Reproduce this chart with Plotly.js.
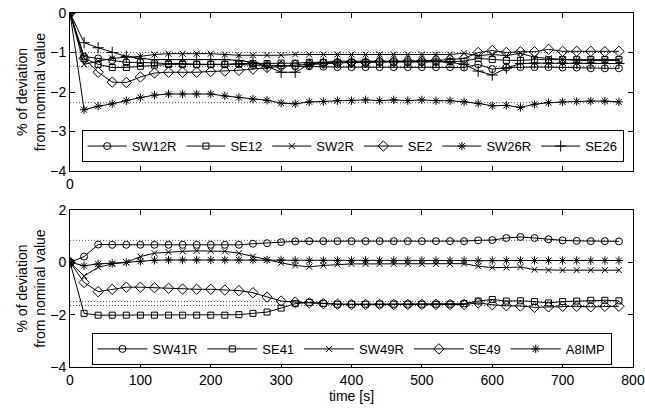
<!DOCTYPE html>
<html><head><meta charset="utf-8">
<script src="https://cdn.plot.ly/plotly-3.0.1.min.js"></script>
<style>html,body{margin:0;padding:0;background:#fff}#chart{width:645px;height:412px}</style>
</head><body><div id="chart"></div>
<script>
// time axis (s)
const time = [0,20,40,60,80,100,120,140,160,180,200,220,240,260,280,300,320,340,360,380,
              400,420,440,460,480,500,520,540,560,580,600,620,640,660,680,700,720,740,760,780];

// ---- top panel series (% deviation) ----
const SW12R = [0,-1.10,-1.15,-1.20,-1.25,-1.25,-1.27,-1.28,-1.28,-1.30,-1.30,-1.30,-1.30,-1.32,-1.32,-1.33,-1.35,-1.35,-1.36,-1.37,
               -1.37,-1.37,-1.37,-1.37,-1.37,-1.37,-1.37,-1.37,-1.38,-1.30,-1.42,-1.38,-1.37,-1.37,-1.37,-1.38,-1.38,-1.40,-1.40,-1.40];
const SE12  = [0,-1.15,-1.30,-1.38,-1.38,-1.35,-1.32,-1.30,-1.30,-1.30,-1.30,-1.30,-1.28,-1.28,-1.28,-1.27,-1.27,-1.25,-1.25,-1.25,
               -1.25,-1.25,-1.24,-1.24,-1.24,-1.24,-1.24,-1.23,-1.22,-1.15,-1.18,-1.20,-1.20,-1.18,-1.18,-1.18,-1.18,-1.18,-1.18,-1.18];
const SW2R  = [0,-1.30,-1.22,-1.15,-1.12,-1.10,-1.05,-1.03,-1.03,-1.03,-1.03,-1.05,-1.07,-1.07,-1.07,-1.07,-1.05,-1.05,-1.05,-1.05,
               -1.05,-1.05,-1.05,-1.05,-1.05,-1.05,-1.05,-1.05,-1.02,-1.08,-1.05,-1.08,-1.02,-1.12,-1.15,-1.18,-1.20,-1.20,-1.20,-1.20];
const SE2   = [0,-1.15,-1.50,-1.75,-1.76,-1.62,-1.52,-1.50,-1.50,-1.50,-1.48,-1.47,-1.45,-1.42,-1.38,-1.35,-1.32,-1.30,-1.28,-1.27,
               -1.25,-1.25,-1.23,-1.23,-1.22,-1.22,-1.20,-1.18,-1.15,-1.00,-0.95,-1.00,-0.98,-0.98,-0.92,-0.97,-0.97,-0.97,-0.98,-0.97];
const SW26R = [0,-2.45,-2.36,-2.30,-2.22,-2.14,-2.08,-2.05,-2.05,-2.05,-2.05,-2.10,-2.14,-2.18,-2.21,-2.28,-2.30,-2.25,-2.24,-2.22,
               -2.22,-2.20,-2.22,-2.20,-2.22,-2.20,-2.22,-2.22,-2.25,-2.29,-2.35,-2.34,-2.39,-2.31,-2.27,-2.25,-2.24,-2.23,-2.23,-2.25];
const SE26  = [0,-0.75,-0.88,-1.00,-1.10,-1.15,-1.18,-1.18,-1.18,-1.18,-1.18,-1.18,-1.20,-1.25,-1.35,-1.50,-1.50,-1.30,-1.25,-1.22,
               -1.22,-1.22,-1.22,-1.22,-1.22,-1.22,-1.22,-1.25,-1.30,-1.47,-1.57,-1.40,-1.28,-1.27,-1.27,-1.27,-1.27,-1.27,-1.28,-1.28];

// ---- bottom panel series ----
const SW41R = [0,0.22,0.68,0.67,0.67,0.67,0.67,0.67,0.67,0.67,0.67,0.67,0.67,0.71,0.73,0.77,0.80,0.81,0.81,0.81,
               0.81,0.81,0.81,0.81,0.81,0.81,0.81,0.81,0.81,0.84,0.85,0.93,0.97,0.93,0.88,0.84,0.82,0.81,0.81,0.80];
const SE41  = [0,-1.95,-2.02,-2.02,-2.02,-2.02,-2.02,-2.02,-2.02,-2.02,-2.02,-2.02,-2.00,-1.95,-1.90,-1.75,-1.58,-1.53,-1.57,-1.60,
               -1.60,-1.60,-1.60,-1.60,-1.60,-1.60,-1.60,-1.60,-1.58,-1.48,-1.42,-1.48,-1.47,-1.50,-1.55,-1.50,-1.48,-1.45,-1.45,-1.47];
const SW49R = [0,-0.52,-0.19,-0.06,0.00,0.22,0.35,0.39,0.42,0.44,0.44,0.42,0.35,0.22,0.10,-0.02,-0.12,-0.17,-0.12,-0.08,
               -0.06,-0.06,-0.06,-0.06,-0.06,-0.06,-0.06,-0.06,-0.05,-0.15,-0.20,-0.20,-0.18,-0.28,-0.30,-0.30,-0.30,-0.30,-0.30,-0.30];
const SE49  = [0,-0.77,-1.12,-1.03,-0.95,-0.95,-0.97,-0.99,-1.02,-1.03,-1.03,-1.06,-1.08,-1.16,-1.33,-1.48,-1.52,-1.55,-1.58,-1.60,
               -1.61,-1.61,-1.61,-1.61,-1.61,-1.61,-1.61,-1.61,-1.61,-1.55,-1.62,-1.66,-1.67,-1.72,-1.70,-1.68,-1.68,-1.70,-1.68,-1.68];
const A8IMP = [0,-0.13,-0.06,-0.04,0.00,0.04,0.08,0.09,0.09,0.09,0.09,0.09,0.09,0.09,0.09,0.09,0.07,0.07,0.07,0.07,
               0.07,0.07,0.07,0.07,0.07,0.07,0.07,0.07,0.07,0.06,0.07,0.07,0.07,0.07,0.07,0.07,0.07,0.07,0.07,0.07];

// dotted reference levels
const topRefLevels = [-1.0, -1.35, -2.27];
const bottomRefLevels = [0.84, -1.5, -1.65];
const refSpan = [0, 780];

// tick labels
const xTicks = [0,100,200,300,400,500,600,700,800];
const xTickTextTop = ['0','','','','','','','',''];
const xTickTextBottom = ['0','100','200','300','400','500','600','700','800'];
const yTicksTop = [-4,-3,-2,-1,0];
const yTicksBottom = [-4,-2,0,2];

const topNames = ['SW12R','SE12','SW2R','SE2','SW26R','SE26'];
const topData = [SW12R, SE12, SW2R, SE2, SW26R, SE26];
const botNames = ['SW41R','SE41','SW49R','SE49','A8IMP'];
const botData = [SW41R, SE41, SW49R, SE49, A8IMP];

const symTop = ['circle-open','square-open','x-thin-open','diamond-open','asterisk-open','cross-thin-open'];
const symBot = ['circle-open','square-open','x-thin-open','diamond-open','asterisk-open'];
const symSize = {'circle-open':7,'square-open':6,'x-thin-open':6,'diamond-open':8,'asterisk-open':7,'cross-thin-open':8};

const traces = [];
topRefLevels.forEach(v => traces.push({x: refSpan, y: [v, v], xaxis:'x', yaxis:'y', mode:'lines',
  line:{color:'#555', width:1, dash:'1px,2px'}, showlegend:false, hoverinfo:'skip'}));
bottomRefLevels.forEach(v => traces.push({x: refSpan, y: [v, v], xaxis:'x2', yaxis:'y2', mode:'lines',
  line:{color:'#555', width:1, dash:'1px,2px'}, showlegend:false, hoverinfo:'skip'}));

topNames.forEach((n, i) => traces.push({x: time, y: topData[i], name: n, xaxis:'x', yaxis:'y',
  mode:'lines+markers', legend:'legend',
  line:{color:'#000', width:1},
  marker:{symbol:symTop[i], size:symSize[symTop[i]], color:'#000', line:{color:'#000', width:1}}}));
botNames.forEach((n, i) => traces.push({x: time, y: botData[i], name: n, xaxis:'x2', yaxis:'y2',
  mode:'lines+markers', legend:'legend2',
  line:{color:'#000', width:1},
  marker:{symbol:symBot[i], size:symSize[symBot[i]], color:'#000', line:{color:'#000', width:1}}}));

const axisCommon = {ticks:'inside', ticklen:5, tickcolor:'#000', mirror:'ticks', showline:true,
  linecolor:'#000', linewidth:1, showgrid:false, zeroline:false, tickfont:{size:14, color:'#000'}};

const yTitle = {text:'% of deviation<br>from nominal value', font:{size:14, color:'#000'}, standoff:1};

const layout = {
  width:645, height:412,
  margin:{l:70, r:12, t:13, b:45},
  paper_bgcolor:'#fff', plot_bgcolor:'#fff',
  font:{family:'Liberation Sans, Arial, Helvetica, sans-serif', size:14, color:'#000'},
  xaxis: Object.assign({}, axisCommon, {domain:[0,1], anchor:'y', range:[0,800], tickvals:xTicks, ticktext:xTickTextTop}),
  yaxis: Object.assign({}, axisCommon, {domain:[0.5537,1], anchor:'x', range:[-4,0], tickvals:yTicksTop, title:yTitle}),
  xaxis2: Object.assign({}, axisCommon, {domain:[0,1], anchor:'y2', range:[0,800], tickvals:xTicks, ticktext:xTickTextBottom,
     title:{text:'time [s]', font:{size:14, color:'#000'}, standoff:2}}),
  yaxis2: Object.assign({}, axisCommon, {domain:[0,0.4435], anchor:'x2', range:[-4,2], tickvals:yTicksBottom, title:yTitle}),
  legend:{orientation:'h', x:0.502, y:0.624, xanchor:'center', yanchor:'middle', bordercolor:'#000', borderwidth:1,
     bgcolor:'#fff', itemwidth:39, font:{size:13, color:'#000'}},
  legend2:{orientation:'h', x:0.5, y:0.051, xanchor:'center', yanchor:'middle', bordercolor:'#000', borderwidth:1,
     bgcolor:'#fff', itemwidth:50, font:{size:13, color:'#000'}},
  showlegend:true
};

Plotly.newPlot('chart', traces, layout, {displayModeBar:false, staticPlot:true});
</script>
</body></html>
